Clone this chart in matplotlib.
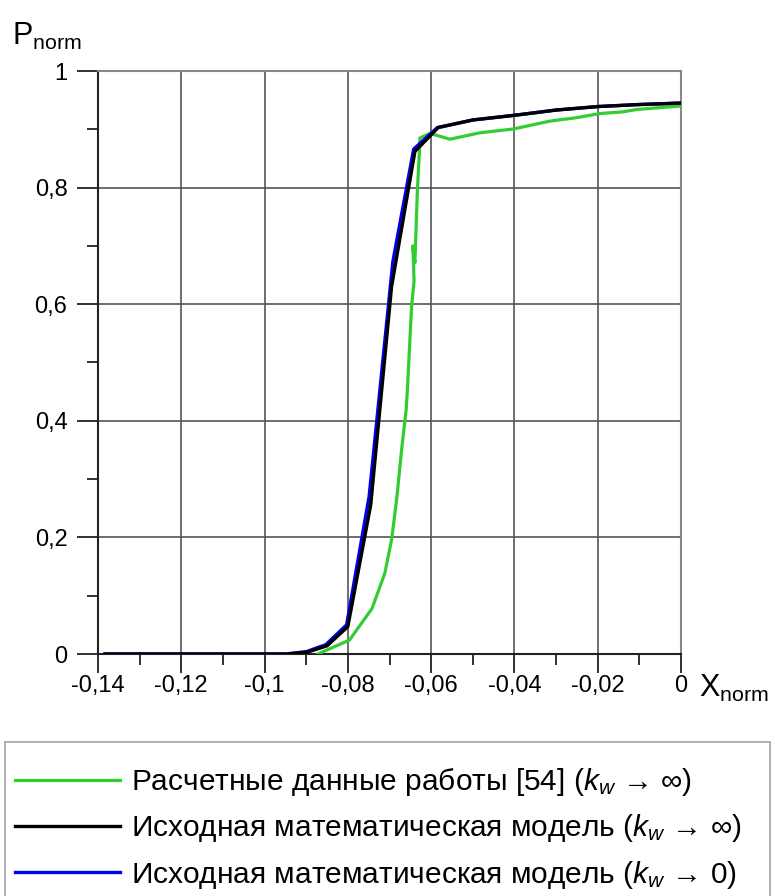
import numpy as np
import matplotlib.pyplot as plt
from matplotlib.patches import Rectangle

plt.rcParams['font.family'] = ['Liberation Sans', 'DejaVu Sans']
plt.rcParams['mathtext.fontset'] = 'custom'
plt.rcParams['mathtext.rm'] = 'Liberation Sans'
plt.rcParams['mathtext.it'] = 'Liberation Sans:italic'

# green: calculated data of work [54]
x_green = [-0.0872, -0.0796, -0.0742, -0.0711, -0.0695, -0.0683, -0.0671, -0.0660,
           -0.0657, -0.0647, -0.0641, -0.0644, -0.0639, -0.0633, -0.0628, -0.0627,
           -0.0603, -0.0555, -0.0483, -0.0403, -0.0315, -0.0250, -0.0195, -0.0139,
           -0.0106, 0.0]
p_green = [0.0, 0.024, 0.078, 0.139, 0.196, 0.264, 0.350, 0.419,
           0.453, 0.596, 0.640, 0.700, 0.671, 0.796, 0.864, 0.885,
           0.893, 0.883, 0.894, 0.9005, 0.914, 0.920, 0.927, 0.930,
           0.934, 0.940]

# black: original model, k_w -> inf
x_black = [-0.1383, -0.0946, -0.0898, -0.0850, -0.0800, -0.0745, -0.0695, -0.0639,
           -0.0583, -0.05, -0.04, -0.03, -0.02, -0.01, 0.0]
p_black = [0.0, 0.0, 0.003, 0.014, 0.047, 0.256, 0.630, 0.862,
           0.903, 0.916, 0.924, 0.933, 0.939, 0.9425, 0.945]

# blue: original model, k_w -> 0
x_blue = [-0.1383, -0.0950, -0.0900, -0.0853, -0.0803, -0.0749, -0.0692, -0.0642,
          -0.0585, -0.05, -0.04, -0.03, -0.02, -0.01, 0.0]
p_blue = [0.0, 0.0, 0.004, 0.016, 0.050, 0.270, 0.673, 0.866,
          0.903, 0.916, 0.924, 0.933, 0.939, 0.9425, 0.945]

xticks = [-0.14, -0.12, -0.1, -0.08, -0.06, -0.04, -0.02, 0]
xlabels = ['-0,14', '-0,12', '-0,1', '-0,08', '-0,06', '-0,04', '-0,02', '0']
yticks = [0, 0.2, 0.4, 0.6, 0.8, 1]
ylabels = ['0', '0,2', '0,4', '0,6', '0,8', '1']

labels = ['Расчетные данные работы [54] ($k_w$ → ∞)',
          'Исходная математическая модель ($k_w$ → ∞)',
          'Исходная математическая модель ($k_w$ → 0)']

fig = plt.figure(figsize=(7.75, 8.96), dpi=100)
ax = fig.add_axes([98/775, 1-654/896, 583/775, 583/896])

l1, = ax.plot(x_green, p_green, color='#33cc33', lw=2.3, zorder=3)
l2, = ax.plot(x_blue, p_blue, color='#0000ee', lw=2.4, zorder=4)
l3, = ax.plot(x_black, p_black, color='black', lw=2.4, zorder=5)

ax.set_xlim(-0.14, 0)
ax.set_ylim(0, 1)
ax.set_xticks(xticks)
ax.set_xticklabels(xlabels)
ax.set_yticks(yticks)
ax.set_yticklabels(ylabels)
ax.set_xticks(np.arange(-0.13, 0, 0.02), minor=True)
ax.set_yticks(np.arange(0.1, 1, 0.2), minor=True)
ax.tick_params(which='major', length=14, width=1.3, color='#222222',
               labelsize=17, pad=1)
ax.tick_params(which='minor', length=8, width=1.3, color='#222222')
ax.tick_params(axis='y', which='major', length=15, pad=7)
ax.grid(True, which='major', color='#555555', lw=1.2)

for s in ['left', 'bottom']:
    ax.spines[s].set_color('#222222')
    ax.spines[s].set_linewidth(1.5)
for s in ['top', 'right']:
    ax.spines[s].set_color('#888888')
    ax.spines[s].set_linewidth(1.5)

fig.text(12/775, 1-36/896, r'P$_{\mathrm{norm}}$', fontsize=22, va='center', ha='left')
fig.text(699/775, 1-688/896, r'X$_{\mathrm{norm}}$', fontsize=22, va='center', ha='left')

# legend frame drawn separately (runs off the bottom edge)
fig.patches.append(Rectangle((5/775, -0.05), 765/775, 1-742/896+0.05,
                             transform=fig.transFigure, fill=False,
                             edgecolor='#aaaaaa', lw=1.3))

leg = fig.legend([l1, l3, l2], labels, loc='upper left',
                 bbox_to_anchor=(5/775, 1-756/896-0.01, 765/775, 0.01), mode='expand',
                 borderaxespad=0, fontsize=21.5, frameon=False,
                 handlelength=3.5, handletextpad=0.38, labelspacing=0.47,
                 borderpad=0.35)

fig.savefig('out.png', dpi=100)
